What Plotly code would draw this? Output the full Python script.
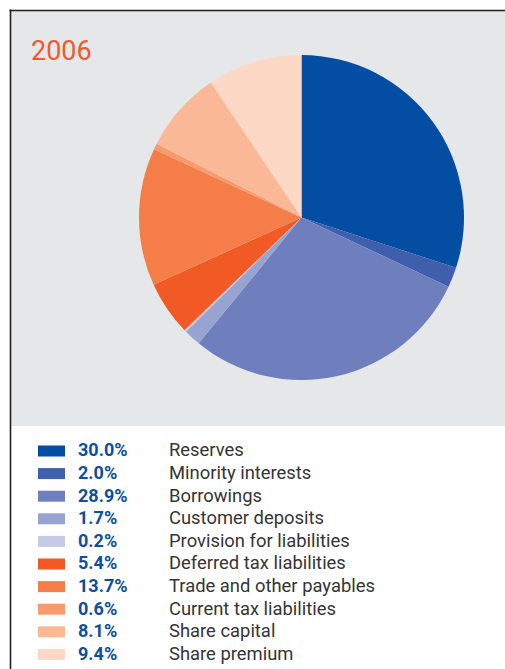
import plotly.graph_objects as go

# Balance-sheet composition, 2006
categories = [
    "Reserves",
    "Minority interests",
    "Borrowings",
    "Customer deposits",
    "Provision for liabilities",
    "Deferred tax liabilities",
    "Trade and other payables",
    "Current tax liabilities",
    "Share capital",
    "Share premium",
]
shares = [30.0, 2.0, 28.9, 1.7, 0.2, 5.4, 13.7, 0.6, 8.1, 9.4]
colors = [
    "#034ea2", "#3f5eab", "#6f7fbd", "#97a3d1", "#c6cae7",
    "#f15a24", "#f47d48", "#f79b6e", "#fbb896", "#fdd9c5",
]
year_label = "2006"

W, H = 505, 669
PANEL_BG = "#e6e7e8"
FRAME = "#231f20"

# pie geometry in pixels
cx, cy, r = 301.5, 217.5, 162.5


def px_x(x):
    return x / W


def px_y(y):
    return 1 - y / H


fig = go.Figure(
    go.Pie(
        labels=categories,
        values=shares,
        marker=dict(colors=colors, line=dict(width=0)),
        sort=False,
        direction="clockwise",
        rotation=0,
        textinfo="none",
        hoverinfo="label+percent",
        showlegend=False,
        domain=dict(
            x=[px_x(cx - r), px_x(cx + r)],
            y=[px_y(cy + r), px_y(cy - r)],
        ),
    )
)

shapes = [
    # grey panel behind the pie
    dict(type="rect", xref="paper", yref="paper",
         x0=px_x(11), x1=1.0, y0=px_y(426), y1=px_y(11),
         fillcolor=PANEL_BG, line=dict(width=0), layer="below"),
    # frame: top rule and left rule
    dict(type="line", xref="paper", yref="paper",
         x0=px_x(9.5), x1=1.0, y0=px_y(10.5), y1=px_y(10.5),
         line=dict(color=FRAME, width=1.6)),
    dict(type="line", xref="paper", yref="paper",
         x0=px_x(10.5), x1=px_x(10.5), y0=0, y1=px_y(9.5),
         line=dict(color=FRAME, width=1.6)),
]

annotations = [
    dict(text=year_label, x=px_x(29), y=px_y(51), xref="paper", yref="paper",
         xanchor="left", yanchor="middle", showarrow=False,
         font=dict(family="Roboto", size=27, color="#f15a29")),
]

# legend rows: swatch, percentage, label
row0, step = 451.0, 22.6
for i, (name, val, col) in enumerate(zip(categories, shares, colors)):
    yc = row0 + i * step
    shapes.append(dict(type="rect", xref="paper", yref="paper",
                       x0=px_x(38), x1=px_x(65),
                       y0=px_y(yc + 5.5), y1=px_y(yc - 5.5),
                       fillcolor=col, line=dict(width=0)))
    annotations.append(dict(text=f"<b>{val:.1f}%</b>", x=px_x(76), y=px_y(yc - 1.2),
                            xref="paper", yref="paper", xanchor="left",
                            yanchor="middle", showarrow=False,
                            font=dict(family="Roboto", size=18, color="#0d4ea0")))
    annotations.append(dict(text=name, x=px_x(167), y=px_y(yc - 1.2),
                            xref="paper", yref="paper", xanchor="left",
                            yanchor="middle", showarrow=False,
                            font=dict(family="Roboto", size=18.4, color="#353535")))

fig.update_layout(
    width=W, height=H,
    margin=dict(l=0, r=0, t=0, b=0),
    paper_bgcolor="white",
    plot_bgcolor="white",
    shapes=shapes,
    annotations=annotations,
)

fig.write_html("out.html", config={"displayModeBar": False})
